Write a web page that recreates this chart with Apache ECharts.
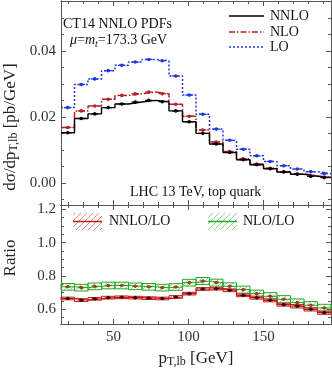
<!DOCTYPE html>
<html><head><meta charset="utf-8">
<script src="https://cdn.jsdelivr.net/npm/echarts@6/dist/echarts.min.js"></script>
<style>html,body{margin:0;padding:0;background:#fff}#c{width:332px;height:369px}</style>
</head><body><div id="c"></div>
<script>
// ---- data ----
const binEdges = [15,24,33,42,51,60,69,78,87,96,105,114,123,132,141,150,159,168,177,186,195];
const nnlo = [0.0152,0.0195,0.0209,0.0228,0.0239,0.0245,0.0250,0.0246,0.0218,0.0185,0.0150,0.0118,0.0092,0.0070,0.0055,0.0043,0.0033,0.0026,0.0020,0.0016];
const nlo  = [0.0168,0.0218,0.0233,0.0253,0.0265,0.0270,0.0275,0.0270,0.0238,0.0202,0.0160,0.0124,0.0095,0.0073,0.0057,0.0044,0.0034,0.0027,0.0021,0.0017];
const lo   = [0.0228,0.0298,0.0315,0.0340,0.0356,0.0366,0.0374,0.0370,0.0324,0.0266,0.0208,0.0163,0.0129,0.0102,0.0082,0.0065,0.0052,0.0042,0.0034,0.0028];
const ratioNNLO = [0.665,0.655,0.663,0.670,0.672,0.670,0.667,0.665,0.674,0.694,0.722,0.724,0.714,0.684,0.670,0.654,0.628,0.618,0.600,0.580];
const ratioNLO  = [0.735,0.730,0.738,0.743,0.743,0.738,0.735,0.730,0.734,0.760,0.770,0.760,0.738,0.718,0.694,0.678,0.660,0.640,0.624,0.608];
const errNNLO = [0.008,0.008,0.008,0.008,0.008,0.008,0.008,0.008,0.008,0.008,0.008,0.008,0.008,0.008,0.009,0.009,0.009,0.010,0.010,0.010];
const errNLO  = [0.020,0.020,0.020,0.020,0.020,0.020,0.020,0.020,0.020,0.020,0.021,0.021,0.021,0.021,0.021,0.022,0.022,0.022,0.022,0.022];
const xTicksMajor = [50,100,150];
const xTicksMinor = [20,30,40,60,70,80,90,110,120,130,140,160,170,180,190];
const yTopMajor = [0,0.02,0.04];
const yTopMinor = [-0.005,0.005,0.01,0.015,0.025,0.03,0.035,0.045,0.05,0.055];
const yBotMajor = [0.6,0.8,1.0,1.2];
const yBotMinor = [0.55,0.65,0.7,0.75,0.85,0.9,0.95,1.05,1.1,1.15];

// ---- styling ----
const AX = '#555';
const FONT = "'Liberation Serif', 'DejaVu Serif', serif";
const C_NNLO = '#000000', C_NLO = '#b3202a', C_LO = '#2236e0';
const C_R1 = '#c81818', C_R2 = '#22aa22';

function hatch(color) {
  const c = document.createElement('canvas'); c.width = 6; c.height = 6;
  const g = c.getContext('2d');
  g.strokeStyle = color; g.lineWidth = 1;
  g.beginPath();
  g.moveTo(0,6); g.lineTo(6,0);
  g.moveTo(-1,1); g.lineTo(1,-1);
  g.moveTo(5,7); g.lineTo(7,5);
  g.stroke();
  return {image: c, repeat: 'repeat'};
}
const hatchR = hatch('#f08a8a');
const hatchG = hatch('#8fd88f');

const labelStyle = {color:'#333', fontFamily: FONT, fontSize: 15};

function xAx(grid, pos, vals, len, labels) {
  return {type:'value', gridIndex:grid, position:pos, min:15, max:195,
    axisLine:{show:true, onZero:false, lineStyle:{color:AX, width:1}},
    axisTick:{show:true, inside:true, length:len, customValues:vals, lineStyle:{color:AX}},
    axisLabel: labels ? Object.assign({show:true, customValues:vals, margin:6}, labelStyle) : {show:false},
    splitLine:{show:false}};
}
function yAx(grid, pos, vals, len, labels, mn, mx, dec) {
  return {type:'value', gridIndex:grid, position:pos, min:mn, max:mx,
    axisLine:{show:true, onZero:false, lineStyle:{color:AX, width:1}},
    axisTick:{show:true, inside:true, length:len, customValues:vals, lineStyle:{color:AX}},
    axisLabel: labels ? Object.assign({show:true, customValues:vals, margin:5, formatter:v=>Number(v).toFixed(dec)}, labelStyle) : {show:false},
    splitLine:{show:false}};
}

const TMIN = -0.0067, TMAX = 0.0551, BMIN = 0.5117, BMAX = 1.2264;

const xAxes = [
  xAx(0,'bottom',xTicksMajor,5,false), xAx(0,'bottom',xTicksMinor,3,false),
  xAx(0,'top',xTicksMajor,5,false), xAx(0,'top',xTicksMinor,3,false),
  xAx(1,'bottom',xTicksMajor,5,true), xAx(1,'bottom',xTicksMinor,3,false),
  xAx(1,'top',xTicksMajor,5,false), xAx(1,'top',xTicksMinor,3,false)
];
const yAxes = [
  yAx(0,'left',yTopMajor,5,true,TMIN,TMAX,2), yAx(0,'left',yTopMinor,3,false,TMIN,TMAX),
  yAx(0,'right',yTopMajor,5,false,TMIN,TMAX), yAx(0,'right',yTopMinor,3,false,TMIN,TMAX),
  yAx(1,'left',yBotMajor,5,true,BMIN,BMAX,1), yAx(1,'left',yBotMinor,3,false,BMIN,BMAX),
  yAx(1,'right',yBotMajor,5,false,BMIN,BMAX), yAx(1,'right',yBotMinor,3,false,BMIN,BMAX)
];

function stepData(vals) {
  return binEdges.map((e,i) => [e, vals[Math.min(i, vals.length-1)]]);
}
function centers() { return binEdges.slice(0,-1).map((e,i)=>(e+binEdges[i+1])/2); }
function markerSeries(vals, color, ax, half) {
  const cs = centers();
  return {type:'custom', xAxisIndex:ax, yAxisIndex:ax, silent:true, z:5,
    data: cs.map((c,i)=>[c, vals[i]]),
    renderItem: (p, api) => {
      const x = api.value(0), y = api.value(1);
      const a = api.coord([x-half, y]), b = api.coord([x+half, y]), m = api.coord([x,y]);
      return {type:'group', children:[
        {type:'line', shape:{x1:a[0],y1:a[1],x2:b[0],y2:b[1]}, style:{stroke:color, lineWidth:1.2}},
        {type:'circle', shape:{cx:m[0], cy:m[1], r:1.8}, style:{fill:color}}
      ]};
    }};
}
function bandSeries(vals, errs, stroke, pattern) {
  return {type:'custom', xAxisIndex:4, yAxisIndex:4, silent:true, z:2,
    data: vals.map((v,i)=>[binEdges[i], binEdges[i+1], v-errs[i], v+errs[i]]),
    renderItem: (p, api) => {
      const a = api.coord([api.value(0), api.value(3)]);
      const b = api.coord([api.value(1), api.value(2)]);
      return {type:'rect', shape:{x:a[0], y:a[1], width:b[0]-a[0], height:b[1]-a[1]},
        style:{fill:pattern, stroke:stroke, lineWidth:1}};
    }};
}
function stepLine(vals, color, ax, type, w) {
  return {type:'line', xAxisIndex:ax, yAxisIndex:ax, step:'end', showSymbol:false, silent:true, z:3,
    data: stepData(vals), lineStyle:{color:color, width:w, type:type}};
}

const series = [
  stepLine(lo, C_LO, 0, [2,2], 1.5),
  stepLine(nlo, C_NLO, 0, [6,2,1.5,2], 1.5),
  stepLine(nnlo, C_NNLO, 0, 'solid', 1.4),
  markerSeries(lo, C_LO, 0, 2.5),
  markerSeries(nlo, C_NLO, 0, 2.5),
  markerSeries(nnlo, C_NNLO, 0, 2.5),
  bandSeries(ratioNLO, errNLO, C_R2, hatchG),
  bandSeries(ratioNNLO, errNNLO, C_R1, hatchR),
  stepLine(ratioNLO, C_R2, 4, 'solid', 1),
  stepLine(ratioNNLO, C_R1, 4, 'solid', 1.2),
  markerSeries(ratioNLO, '#8a4a20', 4, 1.8),
  markerSeries(ratioNNLO, '#3a0a0a', 4, 1.8)
];

const txt = (s, x, y, extra) => ({type:'text', silent:true, z:10,
  style: Object.assign({text:s, x:x, y:y, fill:'#111', font:"14px " + FONT, textVerticalAlign:'middle'}, extra||{})});

const graphic = [
  txt('CT14 NNLO PDFs', 63, 24),
  {type:'text', silent:true, z:10, style:{x:70, y:40, textVerticalAlign:'middle',
    text:'{i|μ}={i|m}{s|t}=173.3 GeV', fill:'#111', font:"14px " + FONT,
    rich:{i:{fontStyle:'italic', fontFamily:FONT, fontSize:14, lineHeight:18},
          s:{fontStyle:'italic', fontFamily:FONT, fontSize:10, lineHeight:10, verticalAlign:'bottom'}}}},
  txt('LHC 13 TeV, top quark', 130, 192),
  // top legend
  {type:'line', silent:true, shape:{x1:229,y1:16,x2:264,y2:16}, style:{stroke:C_NNLO, lineWidth:1.5}},
  {type:'line', silent:true, shape:{x1:229,y1:32,x2:264,y2:32}, style:{stroke:C_NLO, lineWidth:1.5, lineDash:[6,2,1.5,2]}},
  {type:'line', silent:true, shape:{x1:229,y1:47,x2:264,y2:47}, style:{stroke:C_LO, lineWidth:1.5, lineDash:[2,2]}},
  txt('NNLO', 270, 16), txt('NLO', 270, 32), txt('LO', 270, 47),
  // bottom legend
  {type:'rect', silent:true, shape:{x:73,y:213,width:29,height:17}, style:{fill:hatchR}},
  {type:'line', silent:true, shape:{x1:73,y1:221.5,x2:102,y2:221.5}, style:{stroke:C_R1, lineWidth:1.5}},
  txt('NNLO/LO', 109, 221.5),
  {type:'rect', silent:true, shape:{x:208,y:213,width:29,height:17}, style:{fill:hatchG}},
  {type:'line', silent:true, shape:{x1:208,y1:221.5,x2:237,y2:221.5}, style:{stroke:C_R2, lineWidth:1.5}},
  txt('NLO/LO', 243, 221.5),
  // axis titles
  {type:'text', silent:true, x:11, y:127, rotation:Math.PI/2, style:{text:'dσ/dp{s|T,lb} [pb/GeV]', x:0, y:0,
    textAlign:'center', textVerticalAlign:'middle', fill:'#222', font:"17px " + FONT,
    rich:{s:{fontFamily:FONT, fontSize:12, lineHeight:12, verticalAlign:'bottom'}}}},
  {type:'text', silent:true, x:11, y:258, rotation:Math.PI/2, style:{text:'Ratio', x:0, y:0,
    textAlign:'center', textVerticalAlign:'middle', fill:'#222', font:"17px " + FONT}},
  {type:'text', silent:true, style:{text:'p{s|T,lb} [GeV]', x:196, y:359,
    textAlign:'center', textVerticalAlign:'middle', fill:'#222', font:"17px " + FONT,
    rich:{s:{fontFamily:FONT, fontSize:12, lineHeight:12, verticalAlign:'bottom'}}}}
];

const chart = echarts.init(document.getElementById('c'), null, {renderer:'canvas'});
chart.setOption({
  animation:false,
  backgroundColor:'#fff',
  grid:[
    {left:61, top:1, width:270, height:204, containLabel:false, outerBoundsMode:'none'},
    {left:61, top:205, width:270, height:119, containLabel:false, outerBoundsMode:'none'}
  ],
  xAxis: xAxes,
  yAxis: yAxes,
  series: series,
  graphic: graphic
});
</script></body></html>
